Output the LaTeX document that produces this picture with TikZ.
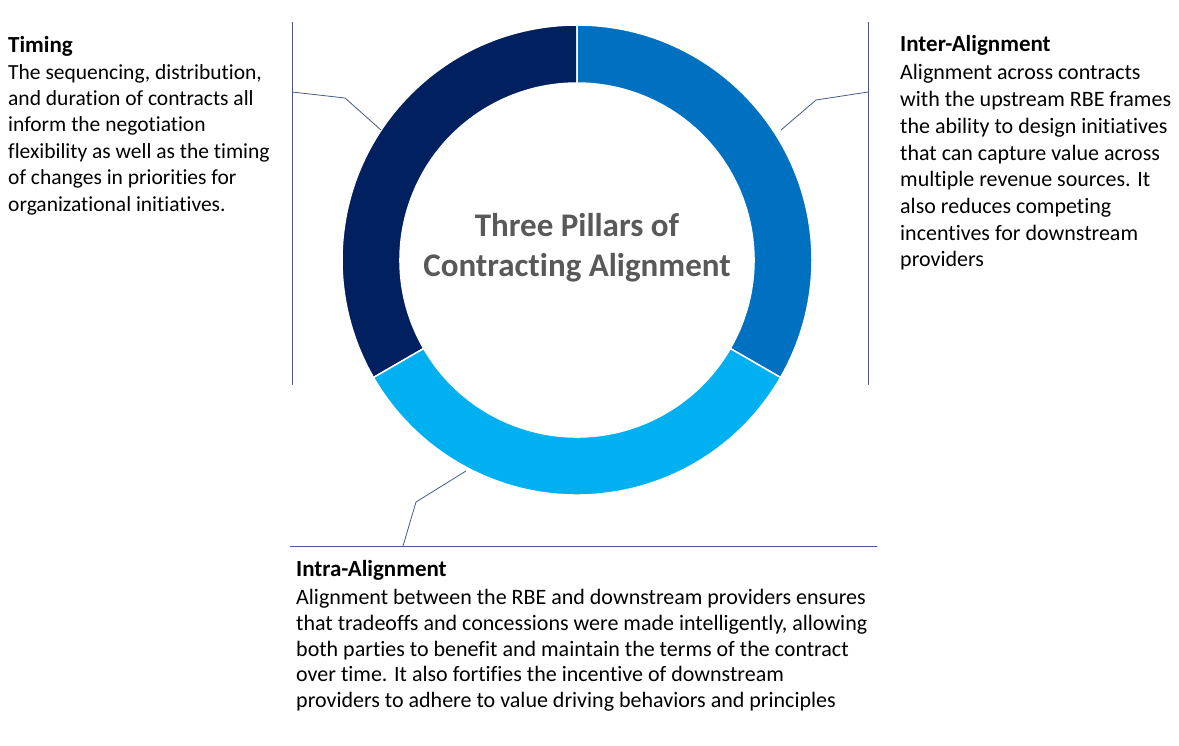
\documentclass[tikz,border=0pt]{standalone}
\usepackage{fontspec}
\usetikzlibrary{calc}
\setmainfont{Carlito}[RawFeature=-liga]
\definecolor{navy}{HTML}{002060}
\definecolor{midblue}{HTML}{0070C0}
\definecolor{lightblue}{HTML}{00B0F0}
\definecolor{leader}{HTML}{4A5A8C}
\definecolor{titlegray}{HTML}{595959}
\begin{document}
\begin{tikzpicture}[x=1pt,y=-1pt,
  seg/.style={draw=white,line width=1.5pt},
  lead/.style={draw=leader,line width=0.8pt},
  head/.style={anchor=north west,inner sep=0pt,font=\fontsize{23}{26}\selectfont\bfseries},
  body/.style={anchor=north west,inner sep=0pt,align=left}]
\useasboundingbox (0,0) rectangle (1179,745);
\coordinate (c) at (577,260);
\def\ro{235}\def\ri{177}
\fill[navy,seg] (c) ++(-90:\ro) arc[start angle=-90,end angle=-210,radius=\ro] -- ($(c)+(-210:\ri)$) arc[start angle=-210,end angle=-90,radius=\ri] -- cycle;
\fill[midblue,seg] (c) ++(-90:\ro) arc[start angle=-90,end angle=30,radius=\ro] -- ($(c)+(30:\ri)$) arc[start angle=30,end angle=-90,radius=\ri] -- cycle;
\fill[lightblue,seg] (c) ++(30:\ro) arc[start angle=30,end angle=150,radius=\ro] -- ($(c)+(150:\ri)$) arc[start angle=150,end angle=30,radius=\ri] -- cycle;
\node[font=\fontsize{33}{40}\selectfont\bfseries,text=titlegray,align=center] (ttl) at (577,248) {Three Pillars of\\Contracting Alignment};
\coordinate (tA) at (292,22); \coordinate (tB) at (292,385);
\draw[lead] (tA) -- (tB);
\coordinate (t1) at (292,92); \coordinate (t2) at (345,98); \coordinate (t3) at (381,130);
\draw[lead] (t1) -- (t2) -- (t3);
\coordinate (iA) at (868,22); \coordinate (iB) at (868,385);
\draw[lead] (iA) -- (iB);
\coordinate (i1) at (868,92); \coordinate (i2) at (816,100); \coordinate (i3) at (781,130);
\draw[lead] (i1) -- (i2) -- (i3);
\coordinate (nA) at (290,546); \coordinate (nB) at (877,546);
\draw[lead] (nA) -- (nB);
\coordinate (n1) at (403,546); \coordinate (n2) at (416,502); \coordinate (n3) at (466,471);
\draw[lead] (n1) -- (n2) -- (n3);
\node[head] (th) at (8,36) {Timing};
\node[body,font=\fontsize{21.5}{26.4}\selectfont] (tb) at (8,64) {The sequencing, distribution,\\and duration of contracts all\\inform the negotiation\\flexibility as well as the timing\\of changes in priorities for\\organizational initiatives.};
\node[head] (ih) at (900,35) {Inter-Alignment};
\node[body,font=\fontsize{22}{26.7}\selectfont] (ib) at (900,64.5) {Alignment across contracts\\with the upstream RBE frames\\the ability to design initiatives\\that can capture value across\\multiple revenue sources. It\\also reduces competing\\incentives for downstream\\providers};
\node[head] (nh) at (296,560) {Intra-Alignment};
\node[body,font=\fontsize{22}{25.8}\selectfont] (nb) at (296,589) {Alignment between the RBE and downstream providers ensures\\that tradeoffs and concessions were made intelligently, allowing\\both parties to benefit and maintain the terms of the contract\\over time. It also fortifies the incentive of downstream\\providers to adhere to value driving behaviors and principles};
\end{tikzpicture}
\end{document}
